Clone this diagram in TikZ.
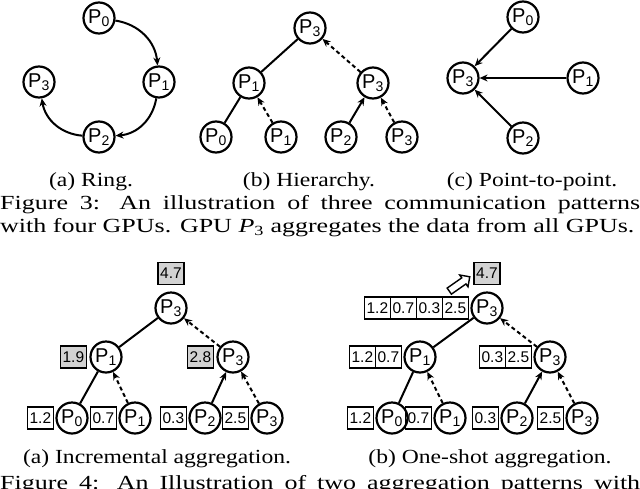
\documentclass[tikz,border=0pt]{standalone}
\usepackage{fontspec}
\setmainfont{Liberation Serif}
\newfontfamily\capfont[FakeStretch=1.3]{Liberation Serif}
\newfontfamily\subcapfont[FakeStretch=1.18]{Liberation Serif}
\newfontfamily\lblfont{Liberation Sans}
\usetikzlibrary{positioning,arrows.meta,shapes.arrows}
\newcommand{\gp}[1]{P\textsubscript{#1}}

\begin{document}
\begin{tikzpicture}[x=1pt,y=-1pt,
  gpu/.style={circle,draw,line width=2.2pt,minimum size=31pt,inner sep=0pt,font=\lblfont\fontsize{20}{20}\selectfont},
  val/.style={rectangle,draw,line width=1.3pt,minimum width=26pt,minimum height=22pt,inner sep=0pt,outer sep=0pt,font=\lblfont\fontsize{15.5}{15.5}\selectfont},
  sum/.style={val,fill=gray!35},
  push/.style={line width=2pt,-{Stealth[length=8pt,width=7pt]}},
  pushd/.style={push,dash pattern=on 4pt off 3pt},
  hollow/.style={single arrow,draw,line width=1.4pt,minimum height=25pt,inner sep=3pt,single arrow head extend=3.5pt},
  subcap/.style={anchor=base,inner sep=0pt,font=\subcapfont\fontsize{20}{23}\selectfont},
  figcap/.style={anchor=base west,inner sep=0pt,font=\capfont\fontsize{20}{23}\selectfont}]
\useasboundingbox (0,0) rectangle (640,488);
\clip (0,0) rectangle (640,488);
\node[gpu] (r0) at (99,18) {\gp0};\node[gpu] (r1) at (159,82) {\gp1};
\node[gpu] (r2) at (99,137) {\gp2};\node[gpu] (r3) at (39,82) {\gp3};
\draw[push] (r0) to[bend left=38] (r1);
\draw[push] (r1) to[bend left=38] (r2);
\draw[push] (r2) to[bend left=38] (r3);
\node[gpu] (ht) at (310,28) {\gp3};
\node[gpu] (hl) at (249,83) {\gp1};\node[gpu] (hr) at (373,83) {\gp3};
\node[gpu] (h0) at (216,137) {\gp0};\node[gpu] (h1) at (281,137) {\gp1};
\node[gpu] (h2) at (341,137) {\gp2};\node[gpu] (h3) at (402,137) {\gp3};
\draw[push] (hl)--(ht) (h0)--(hl) (h2)--(hr);
\draw[pushd] (hr)--(ht);\draw[pushd] (h1)--(hl);\draw[pushd] (h3)--(hr);
\node[gpu] (p0) at (523,17) {\gp0};\node[gpu] (p3) at (463,78) {\gp3};
\node[gpu] (p1) at (583,78) {\gp1};\node[gpu] (p2) at (523,138) {\gp2};
\draw[push] (p0)--(p3);\draw[push] (p1)--(p3);\draw[push] (p2)--(p3);
\node[subcap] (ca) at (91,186) {(a) Ring.};
\node[subcap] (cb) at (309,186) {(b) Hierarchy.};
\node[subcap] (cc) at (532,186) {(c) Point-to-point.};
\node[figcap] (f3a) at (0,209) {\makebox[640pt][s]{Figure 3: An illustration of three communication patterns}};
\node[figcap] (f3b) at (0,232) {with four GPUs. GPU \textit{P}\textsubscript{3} aggregates the data from all GPUs.};
\node[gpu] (at) at (171,308) {\gp3};\node[sum,above=7pt of at] (atv) {4.7};
\node[gpu] (al) at (106,357) {\gp1};\node[sum,left=3pt of al] (alv) {1.9};
\node[gpu] (ar) at (233,357) {\gp3};\node[sum,left=3pt of ar] (arv) {2.8};
\node[gpu] (a0) at (72,418) {\gp0};\node[val,left=2pt of a0] (a0v) {1.2};
\node[gpu] (a1) at (135,418) {\gp1};\node[val,left=2pt of a1] (a1v) {0.7};
\node[gpu] (a2) at (205,418) {\gp2};\node[val,left=2pt of a2] (a2v) {0.3};
\node[gpu] (a3) at (267,418) {\gp3};\node[val,left=2pt of a3] (a3v) {2.5};
\draw[push] (al)--(at) (a0)--(al) (a2)--(ar);
\draw[pushd] (ar)--(at);\draw[pushd] (a1)--(al);\draw[pushd] (a3)--(ar);
\node[gpu] (bt) at (487,308) {\gp3};\node[sum,above=7pt of bt] (btv) {4.7};
\node[val,left=2pt of bt] (bt4) {2.5};\node[val,left=0pt of bt4] (bt3) {0.3};
\node[val,left=0pt of bt3] (bt2) {0.7};\node[val,left=0pt of bt2] (bt1) {1.2};
\node[hollow,rotate=35] (bta) at (458,285) {};
\node[gpu] (bl) at (420,357) {\gp1};\node[val,left=2pt of bl] (bl2) {0.7};\node[val,left=0pt of bl2] (bl1) {1.2};
\node[gpu] (br) at (550,357) {\gp3};\node[val,left=2pt of br] (br2) {2.5};\node[val,left=0pt of br2] (br1) {0.3};
\node[gpu] (b0) at (392,418) {\gp0};\node[val,left=2pt of b0] (b0v) {1.2};
\node[gpu] (b1) at (450,418) {\gp1};\node[val,left=2pt of b1] (b1v) {0.7};
\node[gpu] (b2) at (517,418) {\gp2};\node[val,left=2pt of b2] (b2v) {0.3};
\node[gpu] (b3) at (582,418) {\gp3};\node[val,left=2pt of b3] (b3v) {2.5};
\draw[push] (bl)--(bt) (b0)--(bl) (b2)--(br);
\draw[pushd] (br)--(bt);\draw[pushd] (b1)--(bl);\draw[pushd] (b3)--(br);
\node[subcap] (c4a) at (157,463) {(a) Incremental aggregation.};
\node[subcap] (c4b) at (490,463) {(b) One-shot aggregation.};
\node[figcap] (f4) at (0,489) {\makebox[640pt][s]{Figure 4: An Illustration of two aggregation patterns with}};
\end{tikzpicture}
\end{document}
